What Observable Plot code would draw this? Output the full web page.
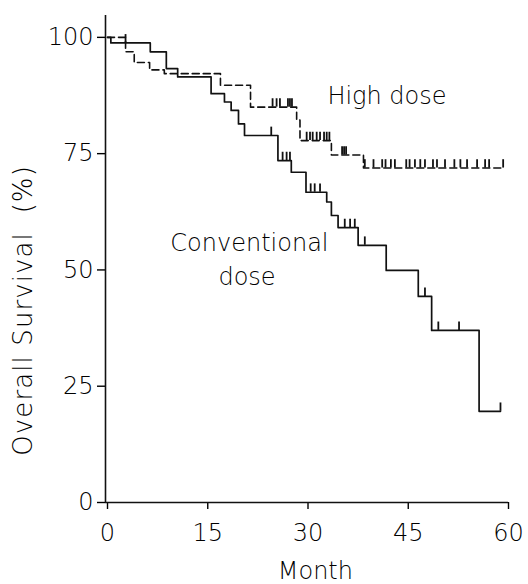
<!DOCTYPE html>
<html>
<head>
<meta charset="utf-8">
<script src="https://cdn.jsdelivr.net/npm/d3@7"></script>
<script src="https://cdn.jsdelivr.net/npm/@observablehq/plot@0.6"></script>
<style>
  html, body { margin: 0; padding: 0; background: #fff; }
  #chart { width: 528px; height: 584px; }
</style>
</head>
<body>
<div id="chart"></div>
<script>
// ---- data ----
const convMonths = [0, 0.5, 6.4, 8.8, 10.5, 15.5, 17.5, 18.5, 19.6, 20.5, 25.5, 27.5, 29.7, 32.8, 33.5, 34.5, 37.5, 41.7, 46.5, 48.5, 55.6, 58.8];
const convSurv   = [100, 98.8, 96.9, 93.3, 91.5, 87.9, 86.1, 84.3, 81.4, 78.9, 73.5, 71.0, 66.7, 64.6, 61.7, 59.1, 55.3, 49.9, 44.3, 37.0, 19.6, 19.6];
const convCensor = [2.7, 24.5, 26.2, 26.8, 27.3, 30.4, 31.0, 31.8, 35.5, 36.3, 37.0, 38.5, 47.5, 49.5, 52.6, 58.8];

const highMonths = [0, 2.7, 4.0, 6.3, 8.5, 16.9, 21.4, 28.3, 28.8, 33.5, 38.3, 59.2];
const highSurv   = [100, 96.9, 94.6, 93.0, 92.2, 89.7, 85.0, 82.2, 77.8, 74.7, 71.9, 71.9];
const highCensor = [24.7, 25.3, 25.8, 27.0, 27.3, 27.6, 29.8, 30.3, 30.7, 31.3, 31.8, 32.4, 32.8, 33.2,
                    35.1, 35.4, 35.7, 38.5, 39.8, 41.1, 41.6, 42.4, 43.0, 44.7, 45.2, 46.0, 46.8, 47.5,
                    48.7, 49.3, 50.5, 51.9, 52.8, 53.8, 55.3, 56.5, 57.1, 59.2];

const xTicks = [0, 15, 30, 45, 60];
const yTicks = [0, 25, 50, 75, 100];
const xLabel = "Month";
const yLabel = "Overall Survival  (%)";
const seriesLabels = [
  {text: "High dose", x: 32.9, y: 87.3},
  {text: "Conventional", x: 9.4, y: 55.7},
  {text: "dose", x: 16.6, y: 48.4}
];

// ---- build tables ----
const conv = convMonths.map((m, i) => ({m, s: convSurv[i]}));
const high = highMonths.map((m, i) => ({m, s: highSurv[i]}));
function levelAt(table, m) {
  let s = table[0].s;
  for (const d of table) if (d.m <= m) s = d.s;
  return s;
}
const tickLen = 1.8; // censor mark height, in % units
const convMarks = convCensor.map(m => ({m, s: levelAt(conv, m)}));
const highMarks = highCensor.map(m => ({m, s: levelAt(high, m)}));

const ink = "#000";
const chart = Plot.plot({
  width: 528,
  height: 584,
  marginLeft: 105,
  marginRight: 20,
  marginTop: 15,
  marginBottom: 82,
  x: {domain: [-0.3, 60]},
  y: {domain: [0, 104.7]},
  style: {fontFamily: "'DejaVu Sans', sans-serif", fontSize: "24px", fontWeight: 200, color: ink, background: "#fff"},
  marks: [
    Plot.axisY({ticks: yTicks, tickSize: 8, tickPadding: 4, label: null, fontSize: 24, strokeWidth: 1.4}),
    Plot.axisX({ticks: xTicks, tickSize: 7, tickPadding: 14, label: null, fontSize: 24, strokeWidth: 1.4}),
    Plot.ruleX([-0.3], {y1: 0, y2: 104.7, strokeWidth: 1.6, stroke: "#111"}),
    Plot.ruleY([0], {x1: -0.3, x2: 60, strokeWidth: 1.6, stroke: "#111"}),
    Plot.line(high, {x: "m", y: "s", curve: "step-after", stroke: "#111", strokeWidth: 1.6, strokeDasharray: "7,4"}),
    Plot.line(conv, {x: "m", y: "s", curve: "step-after", stroke: "#111", strokeWidth: 1.7}),
    Plot.ruleX(highMarks, {x: "m", y1: "s", y2: d => d.s + tickLen, stroke: "#111", strokeWidth: 1.8}),
    Plot.ruleX(convMarks, {x: "m", y1: "s", y2: d => d.s + tickLen, stroke: "#111", strokeWidth: 1.8}),
    Plot.text(seriesLabels, {x: "x", y: "y", text: "text", textAnchor: "start", fontSize: 24, fill: ink}),
    Plot.text([xLabel], {frameAnchor: "bottom", x: 31.1, dy: 76, fontSize: 24, fill: ink}),
    Plot.text([yLabel], {frameAnchor: "left", textAnchor: "middle", y: 41.3, dx: -82, rotate: -90, fontSize: 26, fill: ink})
  ]
});
d3.select(chart).selectAll("text")
  .filter(function() { return this.textContent === yLabel; })
  .attr("letter-spacing", "1.1")
  .style("letter-spacing", "1.1px");
document.getElementById("chart").appendChild(chart);
</script>
</body>
</html>
